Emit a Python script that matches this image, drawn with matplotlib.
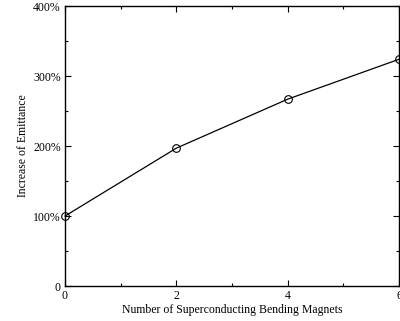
import numpy as np
from matplotlib import pyplot as plt
from matplotlib.ticker import MultipleLocator

n_magnets = [0, 2, 4, 6]
increase = [100, 197, 267, 324]

y_ticks = [0, 100, 200, 300, 400]
y_labels = ['0', '100%', '200%', '300%', '400%']
x_ticks = [0, 2, 4, 6]

plt.rcParams['font.family'] = 'Liberation Serif'
plt.rcParams['font.size'] = 8.5

fig = plt.figure(figsize=(4.0, 3.21), dpi=100)
ax = fig.add_axes([0.1625, 0.109, 0.835, 0.872])
ax.plot(n_magnets, increase, color='black', linewidth=0.9,
        marker='o', markersize=5.5, markerfacecolor='none',
        markeredgecolor='black', markeredgewidth=0.8, clip_on=False)

ax.set_xlim(0, 6)
ax.set_ylim(0, 400)
ax.set_xticks(x_ticks)
ax.set_yticks(y_ticks)
ax.set_yticklabels(y_labels)
ax.xaxis.set_minor_locator(MultipleLocator(1))
ax.yaxis.set_minor_locator(MultipleLocator(50))
ax.tick_params(which='both', direction='in', top=True, right=True,
               width=0.8, pad=3)
ax.tick_params(which='major', length=4)
ax.tick_params(which='minor', length=2)
for s in ax.spines.values():
    s.set_linewidth(1.0)

ax.set_xlabel('Number of Superconducting Bending Magnets', labelpad=1)
ax.set_ylabel('Increase of Emittance', labelpad=3)

fig.savefig('out.png', dpi=100)
